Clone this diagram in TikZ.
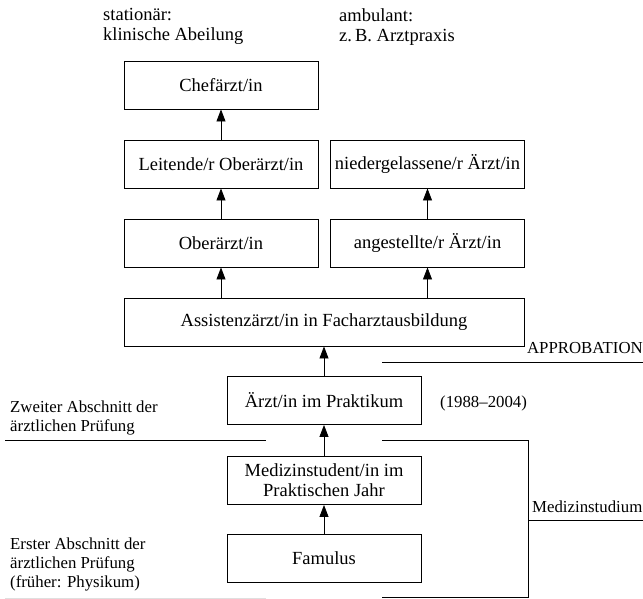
\documentclass[tikz,border=0pt]{standalone}
\usepackage{fontspec}
\setmainfont{Liberation Serif}
\usetikzlibrary{arrows.meta}
\begin{document}
\begin{tikzpicture}[x=1pt,y=-1pt,
  box/.style={draw,line width=0.9pt,minimum width=194pt,minimum height=48pt,inner sep=0pt,align=center,font=\fontsize{18.5}{20}\selectfont},
  up/.style={-{Triangle[length=12pt,width=9pt]},line width=0.8pt},
  lbl/.style={inner sep=0pt,anchor=north west,align=left,font=\fontsize{18.5}{20}\selectfont},
  side/.style={lbl,font=\fontsize{16.8}{19}\selectfont},
  sep/.style={line width=0.9pt}]
\useasboundingbox (0,0) rectangle (643,598);
\node[lbl] (stat) at (103,8) {stationär:\\klinische Abeilung};
\node[lbl] (amb) at (339,8) {ambulant:\\z.\,B. Arztpraxis};
\node[box] (chef) at (221,85) {Chefärzt/in};
\node[box] (leit) at (221,164) {Leitende/r Oberärzt/in};
\node[box] (nied) at (427.5,164) {niedergelassene/r Ärzt/in};
\node[box] (ober) at (221,243) {Oberärzt/in};
\node[box] (angest) at (427.5,243) {angestellte/r Ärzt/in};
\node[box,minimum width=400pt] (assist) at (324,322) {Assistenzärzt/in in Facharztausbildung};
\node[box] (aip) at (324,400.5) {Ärzt/in im Praktikum};
\node[box] (pj) at (324,480.5) {Medizinstudent/in im\\Praktischen Jahr};
\node[box] (fam) at (324,558.5) {Famulus};
\draw[up] (leit) -- (chef);
\draw[up] (ober) -- (leit);
\draw[up] (angest) -- (nied);
\draw[up] (assist.north -| ober) -- (ober);
\draw[up] (assist.north -| angest) -- (angest);
\draw[up] (aip) -- (assist);
\draw[up] (pj) -- (aip);
\draw[up] (fam) -- (pj);
\coordinate (appA) at (382,362);
\coordinate (appB) at (643,362);
\draw[sep] (appA) -- (appB);
\node[side,anchor=base east] (approb) at (643,353) {APPROBATION};
\node[side,anchor=base west] (jahre) at (440,407) {(1988--2004)};
\node[side] (zweit) at (10,401) {Zweiter Abschnitt der\\ärztlichen Prüfung};
\coordinate (zwA) at (5,440);
\coordinate (zwB) at (266,440);
\draw[sep] (zwA) -- (zwB);
\node[side] (erst) at (10,538) {Erster Abschnitt der\\ärztlichen Prüfung\\(früher: Physikum)};
\coordinate (erA) at (5,598);
\coordinate (erB) at (266,598);
\draw[sep,gray!25] (erA) -- (erB);
\coordinate (stA) at (382,440);
\coordinate (stB) at (528,440);
\coordinate (stC) at (528,597);
\coordinate (stD) at (382,597);
\coordinate (stM) at (528,520);
\coordinate (stE) at (643,520);
\draw[sep] (stA) -- (stB) -- (stC) -- (stD);
\draw[sep] (stM) -- (stE);
\node[side,anchor=base west] (medstud) at (532,512) {Medizinstudium};
\end{tikzpicture}
\end{document}
